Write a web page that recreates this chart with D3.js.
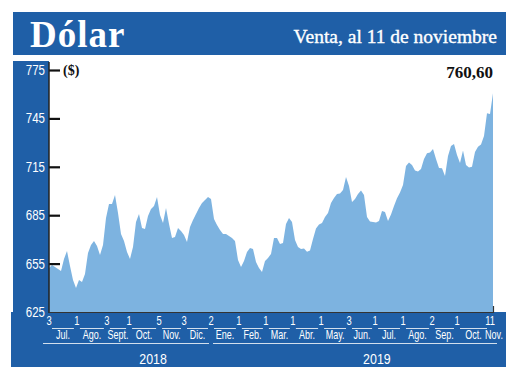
<!DOCTYPE html>
<html><head><meta charset="utf-8">
<script src="https://cdn.jsdelivr.net/npm/d3@7"></script>
<style>body{margin:0;background:#fff}svg{display:block}</style>
</head><body>
<svg id="c" width="520" height="379"></svg>
<script>
// ---- data ----
const values = [
652.3,654.1,652.9,651.7,650.4,657.9,662.8,653.5,644.8,639.9,644.8,643.6,648.6,661.6,666.5,669.0,665.9,660.3,666.5,683.3,
692.0,692.0,697.5,686.4,673.4,669.0,662.2,657.9,665.3,680.8,685.8,677.1,676.5,684.5,688.9,690.7,696.3,685.1,680.2,689.5,
679.6,670.9,671.5,677.1,675.2,672.7,668.4,677.7,682.0,685.8,689.5,692.6,694.4,696.3,695.1,682.7,678.9,675.8,673.4,673.4,
672.1,670.9,669.0,657.2,652.9,656.6,662.2,664.7,664.1,656.0,652.3,649.8,656.6,658.5,661.0,670.9,670.9,667.2,667.8,679.6,
683.3,680.8,669.6,665.3,664.1,664.4,662.4,663.1,670.3,676.8,679.3,680.2,683.9,686.4,692.6,695.7,698.2,698.5,700.6,708.7,
703.1,693.2,695.1,698.2,700.3,697.5,683.9,681.1,680.8,680.5,681.4,687.6,687.0,681.4,685.5,690.7,695.5,699.1,703.7,715.5,
717.7,716.1,712.7,712.1,713.7,719.9,723.4,723.9,726.1,719.9,714.3,714.1,709.3,721.7,727.9,729.2,722.3,717.4,725.1,716.1,
714.6,715.1,724.2,727.5,728.9,734.1,748.2,747.8,760.6
];
const dayLabels  = ["3","1","3","1","5","3","2","1","1","1","1","3","1","1","2","1","11"];
const dayIndex   = [0,9.3,19.3,26.7,36.7,45,54,63.3,72.3,81.3,90.7,100,108.7,118,127.7,136,147];
const monthLabels = ["Jul.","Ago.","Sept.","Oct.","Nov.","Dic.","Ene.","Feb.","Mar.","Abr.","May.","Jun.","Jul.","Ago.","Sep.","Oct.","Nov."];
const years = ["2018","2019"];
const yearIndex = [34.7,109.3];
const yTicks = [625,655,685,715,745,775];
const lastValueLabel = "760,60";
const title = "Dólar";
const subtitle = "Venta, al 11 de noviembre";

// ---- drawing ----
const BLUE = "#1f5fa7", LIGHT = "#7db3e0";
const svg = d3.select("#c");
const x = d3.scaleLinear().domain([0, values.length - 1]).range([49, 493]);
const y = d3.scaleLinear().domain([625, 775]).range([312, 70]);
const sans = "'Liberation Sans','Arial',sans-serif";
const serif = "'Liberation Serif','Times New Roman',serif";
const SX = 0.78; // condensed look
function place(sel, fx, fy, sx) {
  sel.attr("x",0).attr("y",0)
     .attr("transform",(d,i)=>`translate(${fx(d,i)},${fy(d,i)}) scale(${sx},1)`);
}

// header
svg.append("rect").attr("x",13).attr("y",12).attr("width",493).attr("height",43).attr("fill",BLUE);
svg.append("text").attr("x",30).attr("y",47).text(title)
  .attr("font-family",serif).attr("font-weight","bold").attr("font-size",37).attr("fill","#fff").attr("letter-spacing",1);
svg.append("text").attr("x",497).attr("y",43).attr("text-anchor","end").text(subtitle)
  .attr("font-family",serif).attr("font-size",19.5).attr("fill","#fff")
  .attr("stroke","#fff").attr("stroke-width",0.35);

// left panel & bottom band
svg.append("rect").attr("x",13).attr("y",61).attr("width",36).attr("height",252).attr("fill",BLUE);
svg.append("rect").attr("x",11).attr("y",312).attr("width",495).attr("height",55).attr("fill",BLUE);

// area
const area = d3.area().x((d,i)=>x(i)).y0(y(625)).y1(d=>y(d));
svg.append("path").datum(values).attr("d",area).attr("fill",LIGHT);

// axes
const yAxis = d3.axisRight(y).tickValues(yTicks.slice(1)).tickSize(11).tickFormat("");
const gy = svg.append("g").attr("transform","translate(49,0)").call(yAxis);
gy.select(".domain").remove();
gy.selectAll(".tick line").attr("stroke","#111").attr("stroke-width",2.2);
svg.append("line").attr("x1",49).attr("x2",49).attr("y1",62).attr("y2",313).attr("stroke","#222").attr("stroke-width",1.5);
svg.append("line").attr("x1",49).attr("x2",x(values.length-1)+1).attr("y1",312.5).attr("y2",312.5).attr("stroke","#333").attr("stroke-width",1.2);
svg.append("line").attr("x1",x(values.length-1)+0.5).attr("x2",x(values.length-1)+0.5).attr("y1",306).attr("y2",313).attr("stroke","#333").attr("stroke-width",1.2);

// y labels
const yl = svg.append("g").selectAll("text").data(yTicks).join("text")
  .attr("dy","0.36em").attr("text-anchor","end")
  .attr("font-family",sans).attr("font-size",14).attr("fill","#fff").text(d=>d);
place(yl, ()=>45, d=>y(d), 0.82);

svg.append("text").attr("x",63).attr("y",y(775)).attr("dy","0.35em").text("($)")
  .attr("font-family",serif).attr("font-weight","bold").attr("font-size",14).attr("fill","#111");
svg.append("text").attr("x",493).attr("y",78).attr("text-anchor","end").text(lastValueLabel)
  .attr("font-family",serif).attr("font-weight","bold").attr("font-size",17).attr("fill","#111");

// x axis band
const band = svg.append("g").attr("fill","#fff").attr("font-family",sans);
const dl = band.selectAll("text.day").data(dayLabels).join("text").attr("class","day")
  .attr("text-anchor","middle").attr("font-size",12).text(d=>d);
place(dl, (d,i)=>x(dayIndex[i]), ()=>325, SX);
band.selectAll("line.dseg").data(dayIndex.slice(0,-1)).join("line").attr("class","dseg")
  .attr("x1",(d)=>x(d)+3).attr("x2",(d,i)=>x(dayIndex[i+1])-3)
  .attr("y1",328.5).attr("y2",328.5).attr("stroke","rgba(255,255,255,0.8)").attr("stroke-width",1);
const ml = band.selectAll("text.mon").data(monthLabels).join("text").attr("class","mon")
  .attr("text-anchor","middle").attr("font-size",12).text(d=>d);
place(ml, (d,i)=>i<dayIndex.length-1 ? x((dayIndex[i]+dayIndex[i+1])/2) : x(values.length-1)+1, ()=>339, 0.75);
const jan = dayIndex[monthLabels.indexOf("Ene.")];
band.append("line").attr("x1",x(0)-6).attr("x2",x(jan)-2).attr("y1",343.5).attr("y2",343.5)
  .attr("stroke","rgba(255,255,255,0.8)");
band.append("line").attr("x1",x(jan)+2).attr("x2",x(values.length-1)+4).attr("y1",343.5).attr("y2",343.5)
  .attr("stroke","rgba(255,255,255,0.8)");
const yr = band.selectAll("text.yr").data(years).join("text").attr("class","yr")
  .attr("text-anchor","middle").attr("font-size",15.5).text(d=>d);
place(yr, (d,i)=>x(yearIndex[i]), ()=>364, 0.8);
</script>
</body></html>
